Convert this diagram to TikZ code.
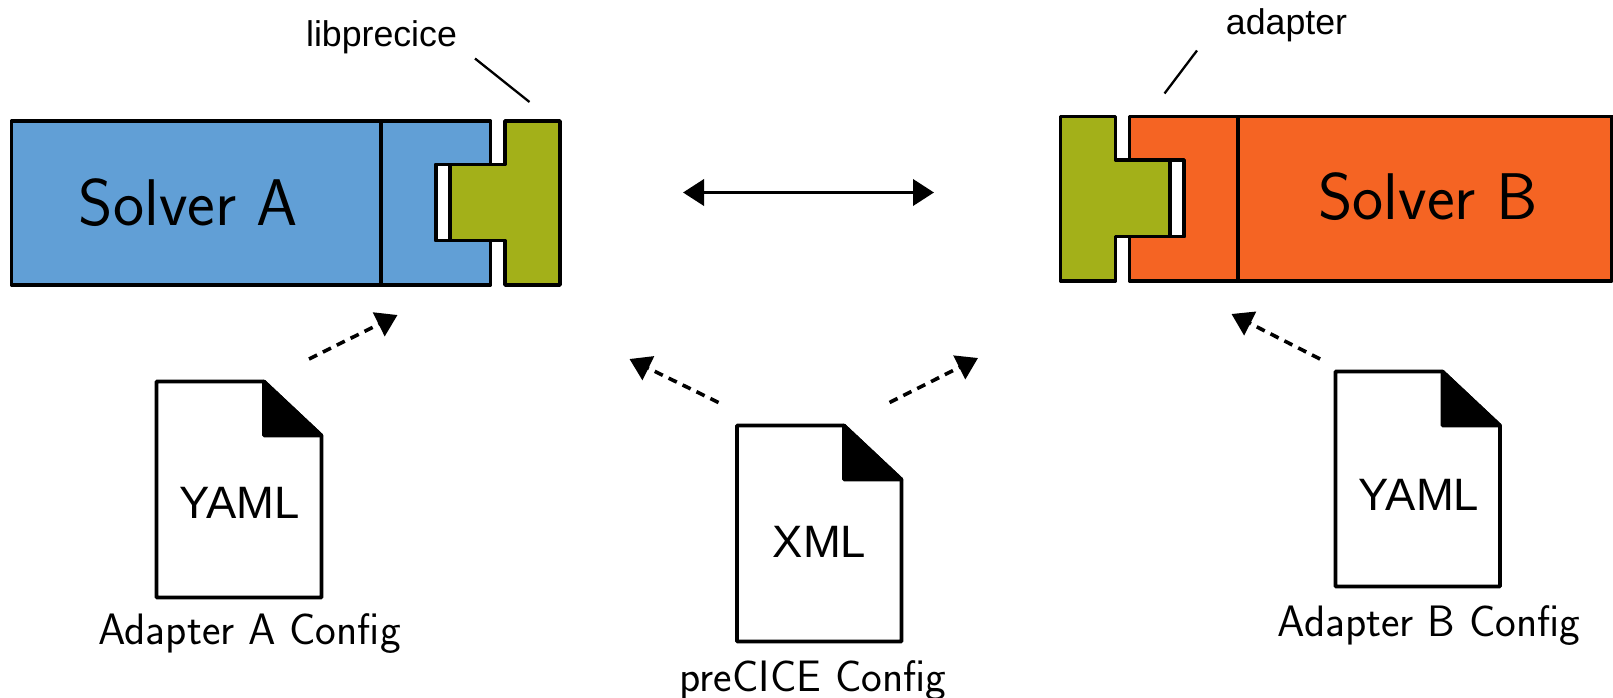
\documentclass[tikz,border=0pt]{standalone}
\usepackage{fontspec}
\setmainfont{Liberation Sans}
\usetikzlibrary{arrows.meta}
\definecolor{solverblue}{HTML}{619FD6}
\definecolor{plugin}{HTML}{A3B019}
\definecolor{solverorange}{HTML}{F56423}
\tikzset{
  x=1pt,y=-1pt,
  part/.style={draw=black,line width=3.6pt,line join=round},
  leader/.style={draw=black,line width=2.3pt},
  cfgarrow/.style={draw=black,line width=3.6pt,dash pattern=on 9pt off 6.5pt,-{Triangle[length=21pt,width=26pt,sep=0pt]}},
  biarrow/.style={draw=black,line width=3.8pt,{Triangle[length=21pt,width=26pt]}-{Triangle[length=21pt,width=26pt]}},
  bigsf/.style={anchor=base,inner sep=0pt,font=\sffamily\fontsize{66}{66}\selectfont},
  capsf/.style={anchor=base,inner sep=0pt,font=\sffamily\fontsize{44}{44}\selectfont},
  arial/.style={anchor=base,inner sep=0pt,font=\fontsize{35.7}{35.7}\selectfont},
  arialbig/.style={anchor=base,inner sep=0pt,font=\fontsize{45.4}{45.4}\selectfont},
}
\newcommand{\docshape}[4]{% left, top, right, bottom
  \pgfmathsetmacro{\foldx}{#3-57.5}
  \pgfmathsetmacro{\foldy}{#2+54}
  \draw[part,fill=white] (#1,#2) -- (\foldx,#2) -- (#3,\foldy) -- (#3,#4) -- (#1,#4) -- cycle;
  \draw[part,fill=black] (\foldx,#2) -- (#3,\foldy) -- (\foldx,\foldy) -- cycle;
}
\begin{document}
\begin{tikzpicture}
\useasboundingbox (0,0) rectangle (1613,697);

% Solver A
\draw[part,fill=solverblue] (11.5,121) -- (490.5,121) -- (490.5,164.5) -- (436,164.5) -- (436,240.5) -- (490.5,240.5) -- (490.5,285) -- (11.5,285) -- cycle;
\draw[part,fill=white] (436,164.5) rectangle (450,240.5);
\draw[part] (381,121) -- (381,285);
\draw[part,fill=plugin] (505,121) -- (560,121) -- (560,285) -- (505,285) -- (505,240.5) -- (450,240.5) -- (450,164.5) -- (505,164.5) -- cycle;

% Solver B
\draw[part,fill=solverorange] (1612,116.5) -- (1129.5,116.5) -- (1129.5,160) -- (1184,160) -- (1184,236.5) -- (1129.5,236.5) -- (1129.5,281) -- (1612,281) -- cycle;
\draw[part,fill=white] (1170,160) rectangle (1184,236.5);
\draw[part] (1238,116.5) -- (1238,281);
\draw[part,fill=plugin] (1115.5,116.5) -- (1060.5,116.5) -- (1060.5,281) -- (1115.5,281) -- (1115.5,236.5) -- (1170,236.5) -- (1170,160) -- (1115.5,160) -- cycle;

% Documents
\docshape{156.5}{381.5}{321.5}{597.5}
\docshape{737}{425.5}{901.5}{641.5}
\docshape{1335.5}{371.5}{1500}{586.5}

% Labels
\node[bigsf] (solvera) at (188.5,225) {Solver A};
\node[bigsf] (solverb) at (1428,219) {Solver B};
\node[arial] (libprecice) at (381.5,46) {libprecice};
\node[arial] (adapter) at (1286.5,34) {adapter};
\node[arialbig] (yamla) at (239.5,518) {YAML};
\node[arialbig] (xml) at (819.5,557) {XML};
\node[arialbig] (yamlb) at (1419,510) {YAML};
\node[capsf] (cfga) at (249.5,644) {Adapter A Config};
\node[capsf] (cfgp) at (813,691) {preCICE Config};
\node[capsf] (cfgb) at (1429,636) {Adapter B Config};

% Leader lines
\coordinate (lpa) at (475,58.5);
\coordinate (lpb) at (529.5,102);
\coordinate (ada) at (1197,50.5);
\coordinate (adb) at (1164.5,93.5);
\draw[leader] (lpa) -- (lpb);
\draw[leader] (ada) -- (adb);

% Arrows
\coordinate (bia) at (683,192.5);
\coordinate (bib) at (934,192.5);
\draw[biarrow] (bia) -- (bib);
\coordinate (a1) at (309,359);
\coordinate (a2) at (397.5,315);
\draw[cfgarrow] (a1) -- (a2);
\coordinate (x1) at (718.5,402.5);
\coordinate (x2) at (629.5,359);
\draw[cfgarrow] (x1) -- (x2);
\coordinate (x3) at (889.5,402.5);
\coordinate (x4) at (978,358);
\draw[cfgarrow] (x3) -- (x4);
\coordinate (b1) at (1320,359);
\coordinate (b2) at (1231.5,314);
\draw[cfgarrow] (b1) -- (b2);
\end{tikzpicture}
\end{document}
